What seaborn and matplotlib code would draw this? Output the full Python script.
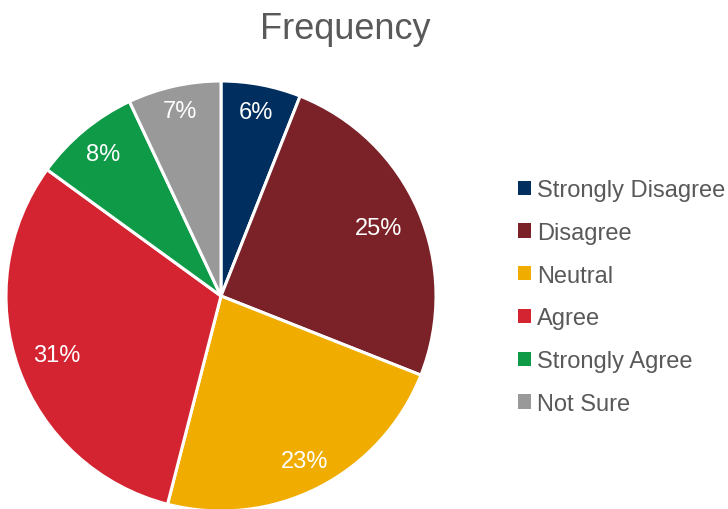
import matplotlib
matplotlib.use("Agg")
import numpy as np
import matplotlib.pyplot as plt
import seaborn as sns
from matplotlib.patches import Patch

# chart data
categories = ["Strongly Disagree", "Disagree", "Neutral", "Agree", "Strongly Agree", "Not Sure"]
shares = [6, 25, 23, 31, 8, 7]
colors = ["#002e5f", "#7b2228", "#f0ad00", "#d42431", "#0f9a48", "#999999"]
# radial position of each percent label (fraction of radius)
label_radius = [0.87, 0.80, 0.86, 0.81, 0.86, 0.88]

sns.set_theme(style="white")
plt.rcParams["font.family"] = ["Liberation Sans", "DejaVu Sans"]

W, H = 728, 510
fig = plt.figure(figsize=(W / 100, H / 100), dpi=100)

# pie: centre (221, 297) px, radius 215 px
cx, cy, r = 221, 297, 215
ax = fig.add_axes([(cx - r) / W, (H - cy - r) / H, 2 * r / W, 2 * r / H])
wedges, texts, autotexts = ax.pie(
    shares,
    colors=colors,
    startangle=90,
    counterclock=False,
    autopct="%d%%",
    pctdistance=0.85,
    wedgeprops=dict(edgecolor="white", linewidth=2.2),
    textprops=dict(color="white", fontsize=17),
)
for w, t, d in zip(wedges, autotexts, label_radius):
    ang = np.deg2rad((w.theta1 + w.theta2) / 2)
    t.set_position((d * np.cos(ang), d * np.sin(ang)))
ax.set_xlim(-1, 1)
ax.set_ylim(-1, 1)
ax.set_aspect("equal")
ax.axis("off")

fig.text(345.5 / W, 1 - 39 / H, "Frequency", ha="center", va="baseline",
         fontsize=26, color="#595959")

handles = [Patch(facecolor=c, edgecolor="none", label=l) for c, l in zip(colors, categories)]
leg = fig.legend(
    handles=handles,
    loc="center left",
    bbox_to_anchor=(518 / W, 1 - 298 / H),
    frameon=False,
    fontsize=17,
    handlelength=0.55,
    handleheight=0.55,
    handletextpad=0.25,
    labelspacing=0.88,
    borderpad=0,
    borderaxespad=0,
)
for t in leg.get_texts():
    t.set_color("#595959")

fig.savefig("out.png", dpi=100)
